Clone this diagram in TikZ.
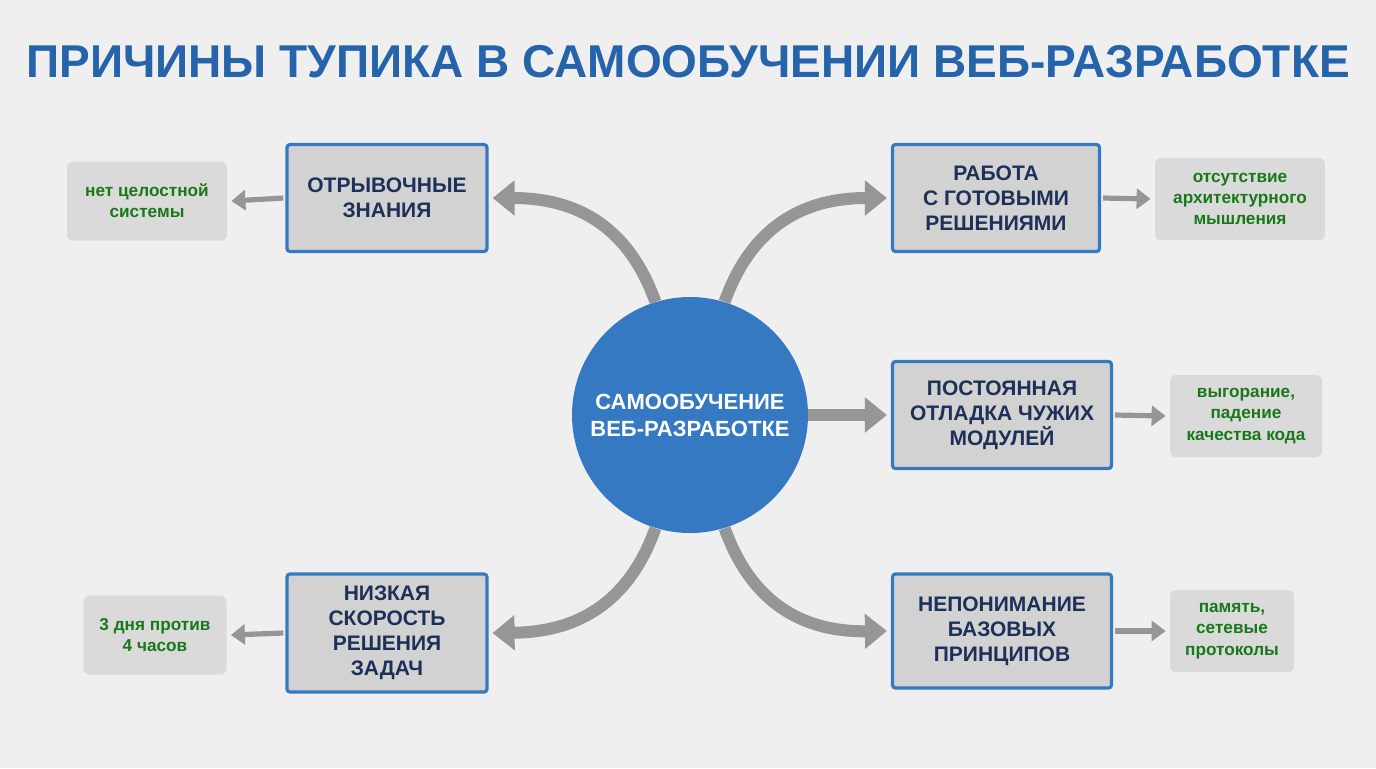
\documentclass[tikz,border=0pt]{standalone}
\usepackage{fontspec}
\setmainfont{Liberation Sans}
\usetikzlibrary{arrows.meta}
\definecolor{bg}{RGB}{239,239,239}
\definecolor{ttl}{RGB}{37,99,170}
\definecolor{circ}{RGB}{52,121,193}
\definecolor{boxf}{RGB}{210,210,210}
\definecolor{sidef}{RGB}{218,218,218}
\definecolor{txt}{RGB}{28,48,88}
\definecolor{grn}{RGB}{25,120,25}
\definecolor{arr}{RGB}{150,150,150}
\tikzset{
  mainbox/.style={draw=circ,line width=1.6pt,fill=boxf,rounded corners=1.5pt,align=center,font=\bfseries\fontsize{10.5}{12.5}\selectfont,text=txt,inner sep=0pt},
  sidebox/.style={fill=sidef,rounded corners=3pt,align=center,font=\bfseries\fontsize{8.6}{10.6}\selectfont,text=grn,inner sep=0pt},
  bigarr/.style={draw=arr,line width=6pt,-{Triangle[length=11pt,width=17pt]}},
  smallarr/.style={draw=arr,line width=2.6pt,-{Triangle[length=7pt,width=10pt]}}
}
\begin{document}
\begin{tikzpicture}[x=0.5pt,y=-0.5pt]
\fill[bg] (0,0) rectangle (1376,768);
\node[font=\bfseries\fontsize{23}{26}\selectfont,text=ttl] (title) at (688,62) {ПРИЧИНЫ ТУПИКА В САМООБУЧЕНИИ ВЕБ-РАЗРАБОТКЕ};
\node[circle,fill=circ,minimum size=118pt,inner sep=0pt,align=center,text=white,font=\bfseries\fontsize{11}{13.5}\selectfont] (c) at (690,415) {САМООБУЧЕНИЕ\\ВЕБ-РАЗРАБОТКЕ};
\node[mainbox,minimum width=100pt,minimum height=53.5pt] (A) at (387,198) {ОТРЫВОЧНЫЕ\\ЗНАНИЯ};
\node[mainbox,minimum width=103.5pt,minimum height=53.5pt] (B) at (996,198) {РАБОТА\\С ГОТОВЫМИ\\РЕШЕНИЯМИ};
\node[mainbox,minimum width=109.5pt,minimum height=53.5pt] (C) at (1002,415) {ПОСТОЯННАЯ\\ОТЛАДКА ЧУЖИХ\\МОДУЛЕЙ};
\node[mainbox,minimum width=109.5pt,minimum height=57pt] (D) at (1002,631) {НЕПОНИМАНИЕ\\БАЗОВЫХ\\ПРИНЦИПОВ};
\node[mainbox,minimum width=100pt,minimum height=59pt] (E) at (387,633) {НИЗКАЯ\\СКОРОСТЬ\\РЕШЕНИЯ\\ЗАДАЧ};
\node[sidebox,minimum width=80pt,minimum height=39.5pt] (a) at (147,201) {нет целостной\\системы};
\node[sidebox,minimum width=85pt,minimum height=41pt] (b) at (1240,199) {отсутствие\\архитектурного\\мышления};
\node[sidebox,minimum width=76pt,minimum height=41pt] (cc) at (1246,416) {выгорание,\\падение\\качества кода};
\node[sidebox,minimum width=62pt,minimum height=41pt] (d) at (1232,631) {память,\\сетевые\\протоколы};
\node[sidebox,minimum width=71.5pt,minimum height=39.5pt] (e) at (155,635) {3 дня против\\4 часов};
\draw[bigarr] (c.107) .. controls (628,225) and (575,198) .. ([xshift=2pt]A.east);
\draw[bigarr] (c.73) .. controls (752,225) and (805,198) .. ([xshift=-2pt]B.west);
\draw[bigarr] (c.253) .. controls (628,605) and (575,632) .. ([xshift=2pt]E.east);
\draw[bigarr] (c.287) .. controls (752,605) and (805,632) .. ([xshift=-2pt]D.west);
\draw[bigarr] (c.east) -- ([xshift=-2pt]C.west);
\draw[smallarr] ([xshift=-1pt]A.west) -- ([xshift=2pt]a.east);
\draw[smallarr] ([xshift=1pt]B.east) -- ([xshift=-2pt]b.west);
\draw[smallarr] ([xshift=1pt]C.east) -- ([xshift=-2pt]cc.west);
\draw[smallarr] ([xshift=1pt]D.east) -- ([xshift=-2pt]d.west);
\draw[smallarr] ([xshift=-1pt]E.west) -- ([xshift=2pt]e.east);
\end{tikzpicture}
\end{document}
